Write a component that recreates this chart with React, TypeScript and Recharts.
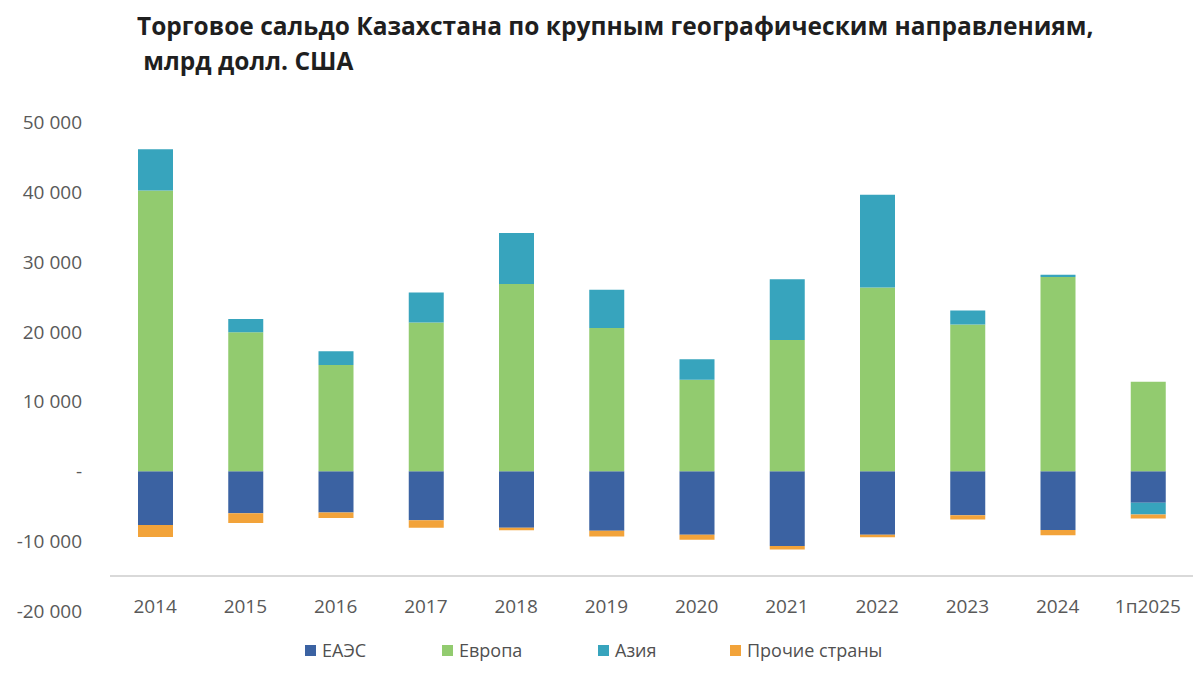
import React from 'react';
import { BarChart, Bar, XAxis, YAxis, ReferenceLine } from 'recharts';

// Trade balance by region, USD mn
const years = ['2014', '2015', '2016', '2017', '2018', '2019', '2020', '2021', '2022', '2023', '2024', '1п2025'];
const eaeu = [-7700, -6000, -5900, -7000, -8100, -8500, -9100, -10700, -9100, -6300, -8400, -4500];
const europe = [40200, 19900, 15200, 21300, 26800, 20500, 13100, 18800, 26300, 21000, 27800, 12800];
const asia = [5900, 1900, 2000, 4300, 7300, 5500, 2950, 8700, 13300, 2000, 330, -1700];
const others = [-1700, -1400, -800, -1100, -350, -850, -700, -500, -350, -600, -750, -550];
const yTicks = [-20000, -10000, 0, 10000, 20000, 30000, 40000, 50000];

const series = [
  { key: 'eaeu', name: 'ЕАЭС', color: '#3b62a2' },
  { key: 'europe', name: 'Европа', color: '#92cb6f' },
  { key: 'asia', name: 'Азия', color: '#37a4bd' },
  { key: 'others', name: 'Прочие страны', color: '#f2a33a' },
];

const data = years.map((year, i) => ({
  year,
  eaeu: eaeu[i],
  europe: europe[i],
  asia: asia[i],
  others: others[i],
}));

const FONT = '"Open Sans", sans-serif';
const TICK_COLOR = '#595959';

const formatTick = (v: number) => {
  if (v === 0) return '-';
  const sign = v < 0 ? '-' : '';
  return sign + Math.abs(v).toString().replace(/\B(?=(\d{3})+(?!\d))/g, ' ');
};

const YTick = ({ y, payload }: any) => (
  <text x={82} y={y} dy={7} textAnchor="end" fill={TICK_COLOR} fontSize={19} fontFamily={FONT}>
    {formatTick(payload.value)}
  </text>
);

const XTick = ({ x, y, payload }: any) => (
  <text x={x} y={y - 6} textAnchor="middle" fill={TICK_COLOR} fontSize={19} fontFamily={FONT}>
    {payload.value}
  </text>
);

const legendLeft = [305, 442, 598, 730];

export default function App() {
  return (
    <div style={{ position: 'absolute', left: 0, top: 0, width: 1200, height: 674, background: '#fff', overflow: 'hidden' }}>
      <div
        style={{
          position: 'absolute',
          left: 137,
          top: 8,
          fontFamily: FONT,
          fontWeight: 700,
          fontSize: 24.5,
          lineHeight: '35px',
          color: '#1f1f1f',
          whiteSpace: 'pre',
          letterSpacing: 0,
        }}
      >
        {'Торговое сальдо Казахстана по крупным географическим направлениям,\n млрд долл. США'}
      </div>

      <BarChart
        width={1200}
        height={674}
        data={data}
        stackOffset="sign"
        margin={{ top: 122, right: 7, bottom: 33, left: 0 }}
        style={{ position: 'absolute', left: 0, top: 0 }}
      >
        <XAxis dataKey="year" axisLine={false} tickLine={false} height={30} tick={<XTick />} interval={0} />
        <YAxis
          domain={[-20000, 50000]}
          ticks={yTicks}
          width={110}
          axisLine={false}
          tickLine={false}
          tick={<YTick />}
          interval={0}
        />
        <ReferenceLine y={-15000} stroke="#d9d9d9" strokeWidth={2} />
        {series.map((s) => (
          <Bar key={s.key} dataKey={s.key} name={s.name} stackId="a" fill={s.color} barSize={35} isAnimationActive={false} />
        ))}
      </BarChart>

      {series.map((s, i) => (
        <div
          key={s.key}
          style={{
            position: 'absolute',
            left: legendLeft[i],
            top: 638,
            display: 'flex',
            alignItems: 'center',
            fontFamily: FONT,
            fontSize: 18,
            color: '#505050',
          }}
        >
          <span style={{ width: 11, height: 11, background: s.color, display: 'inline-block', marginRight: 6 }} />
          <span>{s.name}</span>
        </div>
      ))}
    </div>
  );
}
